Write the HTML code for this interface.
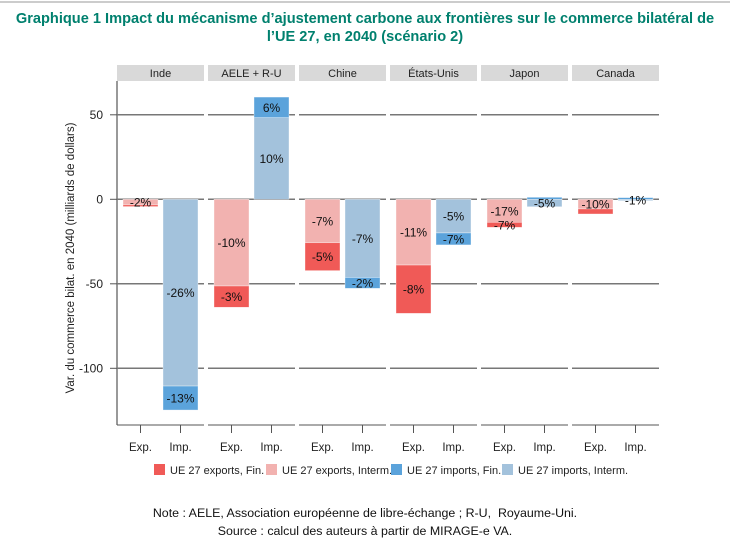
<!DOCTYPE html>
<html><head><meta charset="utf-8"><style>
body{margin:0;background:#fff;font-family:"Liberation Sans",sans-serif;}
#wrap{position:relative;width:730px;height:548px;overflow:hidden;}
.title{position:absolute;left:0;top:10px;width:730px;text-align:center;color:#00806e;font-weight:bold;font-size:14.6px;line-height:18px;}
.note{position:absolute;left:0;width:730px;text-align:center;font-size:12.4px;color:#111;}
</style></head><body>
<div id="wrap">
<div style="position:absolute;left:0;top:1px;width:730px;height:2px;background:#ccc"></div>
<div class="title">Graphique 1 Impact du mécanisme d’ajustement carbone aux frontières sur le commerce bilatéral de<br>l’UE 27, en 2040 (scénario 2)</div>
<svg id="chart" width="730" height="500" style="position:absolute;left:0;top:0"></svg>
<div class="note" style="top:506px">Note : AELE, Association européenne de libre-échange ; R-U,&nbsp; Royaume-Uni.</div>
<div class="note" style="top:524px">Source : calcul des auteurs à partir de MIRAGE-e VA.</div>
</div>
<script>
const panels=["Inde","AELE + R-U","Chine","États-Unis","Japon","Canada"];
const expInterm=[-3.3,-51.3,-25.7,-38.9,-13.6,-5.7];
const expFin=[-1.0,-12.6,-16.5,-28.6,-3.0,-3.0];
const impInterm=[-110.5,48.3,-46.2,-19.9,-4.4,-0.8];
const impFin=[-14.2,12.2,-6.5,-7.1,1.2,1.0];
const expIntermLbl=["-2%","-10%","-7%","-11%","-17%","-10%"];
const expFinLbl=["","-3%","-5%","-8%","-7%",""];
const impIntermLbl=["-26%","10%","-7%","-5%","-5%","-1%"];
const impFinLbl=["-13%","6%","-2%","-7%","",""];
const yTicks=[50,0,-50,-100];
const colors={ef:"#f05a57",ei:"#f2b2b0",if:"#5ba3db",ii:"#a3c2dc"};
const legendItems=["UE 27 exports, Fin.","UE 27 exports, Interm.","UE 27 imports, Fin.","UE 27 imports, Interm."];
const legendColors=[colors.ef,colors.ei,colors.if,colors.ii];

const svg=document.getElementById('chart');
const NS="http://www.w3.org/2000/svg";
const y0=199.3, k=1.69;
const Y=v=>y0-v*k;
const pX=i=>117+i*91, pW=87;
function mk(t,a,p){const e=document.createElementNS(NS,t);for(const n in a)e.setAttribute(n,a[n]);(p||svg).appendChild(e);return e;}
mk('line',{x1:117,y1:81,x2:117,y2:425,stroke:'#333','stroke-width':1});
yTicks.forEach(v=>{const t=mk('text',{x:103,y:Y(v)+4,'text-anchor':'end','font-size':12,fill:'#222'});t.textContent=v;


mk('line',{x1:110,y1:Y(v),x2:117,y2:Y(v),stroke:'#555'});});
const yt=mk('text',{transform:'translate(74,258) rotate(-90)','text-anchor':'middle','font-size':11.5,fill:'#222'});
yt.textContent="Var. du commerce bilat. en 2040 (milliards de dollars)";


function seg(x,a,b,c,name){const top=Math.min(Y(a),Y(b)),h=Math.abs(Y(a)-Y(b));
const r=mk('rect',{x:x,y:top,width:35,height:Math.max(h,1),fill:c,stroke:'#fff','stroke-opacity':0.6,'stroke-width':0.6});

}
function lbl(x,a,b,s){if(!s)return;const t=mk('text',{x:x+17.5,y:(Y(a)+Y(b))/2+4.5,'text-anchor':'middle','font-size':12,fill:'#111'});t.textContent=s;

}
panels.forEach((p,i)=>{const x=pX(i);
const s=mk('rect',{x:x,y:65,width:pW,height:16,fill:'#d9d9d9'});


const st=mk('text',{x:x+pW/2,y:77,'text-anchor':'middle','font-size':11,fill:'#222'});st.textContent=p;


yTicks.forEach(v=>mk('line',{x1:x,x2:x+pW,y1:Y(v),y2:Y(v),stroke:'#777','stroke-width':1.5}));
mk('line',{x1:x,x2:x+pW,y1:425,y2:425,stroke:'#555','stroke-width':1});
const ex=x+6, ix=x+46;
seg(ex,0,expInterm[i],colors.ei,'bar-exp-interm');
seg(ex,expInterm[i],expInterm[i]+expFin[i],colors.ef,'bar-exp-fin');
const ib=impInterm[i]>=0?impInterm[i]:(impFin[i]>=0?0:impInterm[i]);
seg(ix,0,impInterm[i],colors.ii,'bar-imp-interm');
seg(ix,ib,ib+impFin[i],colors.if,'bar-imp-fin');
lbl(ex,0,expInterm[i],expIntermLbl[i]);
lbl(ex,expInterm[i],expInterm[i]+expFin[i],expFinLbl[i]);
lbl(ix,0,impInterm[i],impIntermLbl[i]);
lbl(ix,ib,ib+impFin[i],impFinLbl[i]);
[[ex,'Exp.'],[ix,'Imp.']].forEach(([bx,s])=>{mk('line',{x1:bx+17.5,x2:bx+17.5,y1:425,y2:433,stroke:'#555'});
const t=mk('text',{x:bx+17.5,y:451,'text-anchor':'middle','font-size':11.5,fill:'#222'});t.textContent=s;

});
});
let lx=154;
const lw=[112,125,111,128];
legendItems.forEach((s,i)=>{const g=mk('g',{});


mk('rect',{x:lx,y:464,width:11,height:11,fill:legendColors[i]},g);
const t=mk('text',{x:lx+16,y:474,'font-size':11,fill:'#222'},g);t.textContent=s;
lx+=lw[i];});
</script>
</body></html>
